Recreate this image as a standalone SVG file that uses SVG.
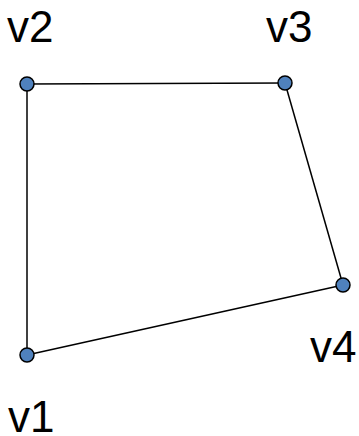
<svg xmlns="http://www.w3.org/2000/svg" width="359" height="436" viewBox="0 0 359 436">
<style>
.e{stroke:#000;stroke-width:1.5;fill:none}
.n{fill:#4F81BD;stroke:#000;stroke-width:1.5}
.t{font-family:"Liberation Sans",Arial,sans-serif;font-size:44px;fill:#000}
</style>
<rect width="359" height="436" fill="#fff"/>
<g id="edges">
<line class="e" x1="27" y1="84" x2="285" y2="83"/>
<line class="e" x1="285" y1="83" x2="343" y2="285"/>
<line class="e" x1="343" y1="285" x2="27" y2="355"/>
<line class="e" x1="27" y1="355" x2="27" y2="84"/>
</g>
<g id="v2"><circle class="n" cx="27" cy="84" r="7"/><text class="t" x="7" y="42">v2</text></g>
<g id="v3"><circle class="n" cx="285" cy="83" r="7"/><text class="t" x="266" y="42">v3</text></g>
<g id="v4"><circle class="n" cx="343" cy="285" r="7"/><text class="t" x="310" y="362">v4</text></g>
<g id="v1"><circle class="n" cx="27" cy="355" r="7"/><text class="t" x="8" y="432">v1</text></g>
</svg>
